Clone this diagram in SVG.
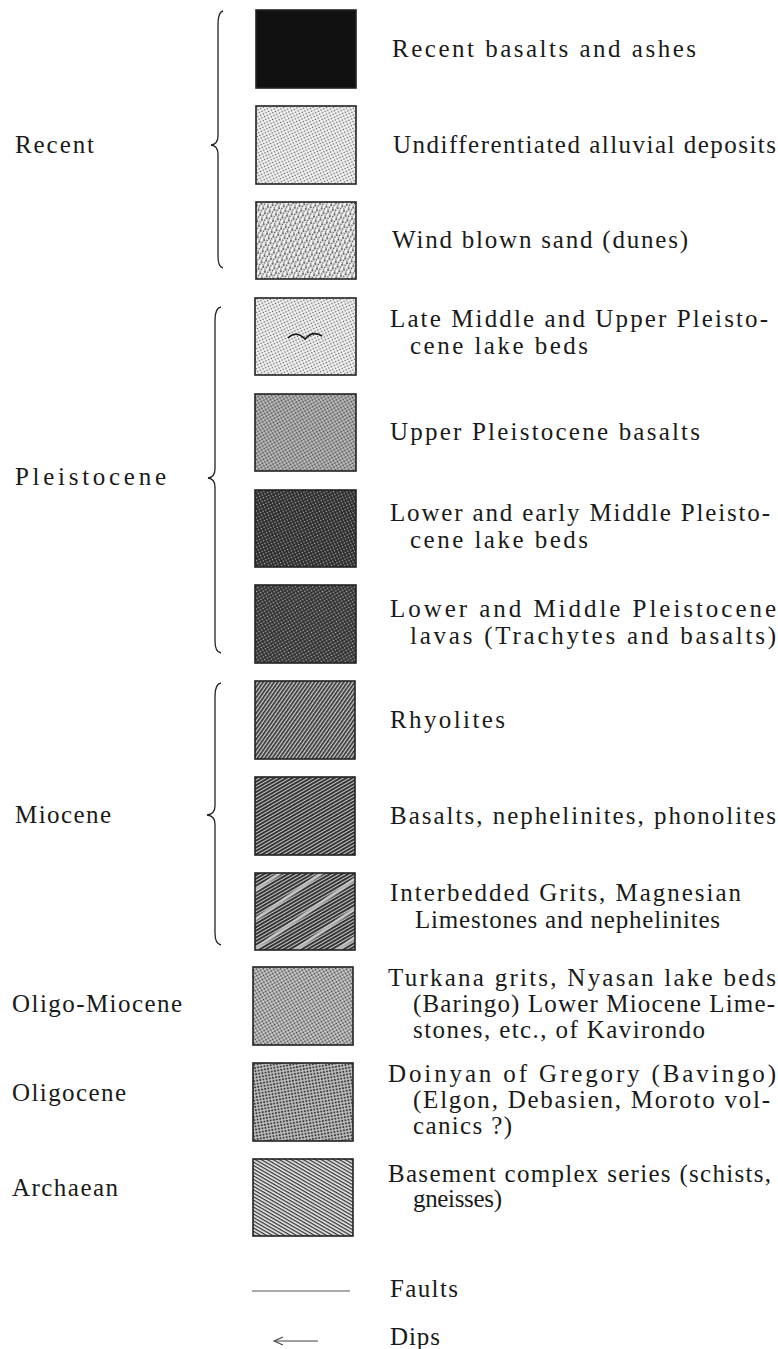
<svg xmlns="http://www.w3.org/2000/svg" width="778" height="1349" viewBox="0 0 778 1349">
<style>
text{font-family:"Liberation Serif","DejaVu Serif","Times New Roman",serif;font-size:25px;fill:#1a1a1a}
.sw{stroke:#222;stroke-width:1.6}
.br{fill:none;stroke:#222;stroke-width:1.3}
</style>
<defs>
<pattern id="p2" width="3" height="3" patternUnits="userSpaceOnUse" patternTransform="rotate(-25)"><rect width="3" height="3" fill="#f2f2f2"/><circle cx="1.5" cy="1.5" r="0.75" fill="#555"/></pattern>
<pattern id="p3" width="5" height="5" patternUnits="userSpaceOnUse" patternTransform="rotate(-20)"><rect width="5" height="5" fill="#f4f4f4"/><circle cx="1" cy="1" r="0.9" fill="#333"/><circle cx="3.6" cy="2.4" r="0.8" fill="#444"/><circle cx="1.8" cy="4" r="0.75" fill="#444"/></pattern>
<pattern id="p5" width="3" height="3" patternUnits="userSpaceOnUse" patternTransform="rotate(-30)"><rect width="3" height="3" fill="#c4c4c4"/><circle cx="1.5" cy="1.5" r="1" fill="#444"/></pattern>
<pattern id="p6" width="3" height="3" patternUnits="userSpaceOnUse" patternTransform="rotate(-25)"><rect width="3" height="3" fill="#2e2e2e"/><circle cx="1.5" cy="1.5" r="0.65" fill="#bbb"/></pattern>
<pattern id="p7" width="3" height="3" patternUnits="userSpaceOnUse" patternTransform="rotate(-30)"><rect width="3" height="3" fill="#333"/><circle cx="1.5" cy="1.5" r="0.75" fill="#bbb"/></pattern>
<pattern id="p8" width="3" height="3" patternUnits="userSpaceOnUse" patternTransform="rotate(-55)"><rect width="3" height="3" fill="#d0d0d0"/><rect width="3" height="1.7" fill="#333"/></pattern>
<pattern id="p9" width="3" height="3" patternUnits="userSpaceOnUse" patternTransform="rotate(-30)"><rect width="3" height="3" fill="#c8c8c8"/><rect width="3" height="1.9" fill="#2e2e2e"/></pattern>
<pattern id="p10b" width="24" height="24" patternUnits="userSpaceOnUse" patternTransform="rotate(-35)"><rect y="10" width="24" height="3.5" fill="#d8d8d8" fill-opacity="0.75"/></pattern>
<pattern id="p11" width="3" height="3" patternUnits="userSpaceOnUse" patternTransform="rotate(-30)"><rect width="3" height="3" fill="#d2d2d2"/><circle cx="1.5" cy="1.5" r="0.95" fill="#3a3a3a"/></pattern>
<pattern id="p12" width="3.2" height="3.2" patternUnits="userSpaceOnUse" patternTransform="rotate(-10)"><rect width="3.2" height="3.2" fill="#bdbdbd"/><circle cx="1.6" cy="1.6" r="1.05" fill="#3a3a3a"/></pattern>
<pattern id="p13" width="3" height="3" patternUnits="userSpaceOnUse" patternTransform="rotate(30)"><rect width="3" height="3" fill="#eeeeee"/><rect width="3" height="1.3" fill="#333"/></pattern>
</defs>

<g id="braces">
<path class="br" d="M223,11 Q218,12 218,24 L218,136 Q218,144 211,145 Q218,146 218,154 L218,256 Q218,267 223,268"/>
<path class="br" d="M221,307 Q215,308 215,320 L215,469 Q215,477 208,478 Q215,479 215,487 L215,641 Q215,652 221,653"/>
<path class="br" d="M221,683 Q215,684 215,696 L215,806 Q215,814 207,815 Q215,816 215,824 L215,933 Q215,944 221,945"/>
</g>

<g id="period-labels">
<text x="15" y="153" textLength="79" lengthAdjust="spacing">Recent</text>
<text x="15" y="485" textLength="151" lengthAdjust="spacing">Pleistocene</text>
<text x="15" y="823" textLength="96" lengthAdjust="spacing">Miocene</text>
<text x="12" y="1012" textLength="170" lengthAdjust="spacing">Oligo-Miocene</text>
<text x="12" y="1101" textLength="114" lengthAdjust="spacing">Oligocene</text>
<text x="12" y="1196" textLength="106" lengthAdjust="spacing">Archaean</text>
</g>

<g id="n1"><rect class="sw" x="256" y="10" width="100" height="78" fill="#111"/><text x="392" y="57" textLength="304" lengthAdjust="spacing">Recent basalts and ashes</text></g>
<g id="n2"><rect class="sw" x="256" y="106" width="100" height="78" fill="url(#p2)"/><text x="393" y="153" textLength="383" lengthAdjust="spacing">Undifferentiated alluvial deposits</text></g>
<g id="n3"><rect class="sw" x="256" y="202" width="100" height="77" fill="url(#p3)"/><text x="392" y="248" textLength="296" lengthAdjust="spacing">Wind blown sand (dunes)</text></g>
<g id="n4"><rect class="sw" x="255" y="298" width="101" height="77" fill="url(#p2)"/><path d="M288,338 Q296,330 305,339 Q313,330 322,336" fill="none" stroke="#111" stroke-width="1.6"/><text x="390" y="327" textLength="378" lengthAdjust="spacing">Late Middle and Upper Pleisto-</text><text x="410" y="354" textLength="178" lengthAdjust="spacing">cene lake beds</text></g>
<g id="n5"><rect class="sw" x="255" y="394" width="101" height="77" fill="url(#p5)"/><text x="390" y="440" textLength="310" lengthAdjust="spacing">Upper Pleistocene basalts</text></g>
<g id="n6"><rect class="sw" x="255" y="490" width="101" height="77" fill="url(#p6)"/><text x="390" y="521" textLength="380" lengthAdjust="spacing">Lower and early Middle Pleisto-</text><text x="410" y="548" textLength="178" lengthAdjust="spacing">cene lake beds</text></g>
<g id="n7"><rect class="sw" x="255" y="585" width="101" height="78" fill="url(#p7)"/><text x="390" y="617" textLength="386" lengthAdjust="spacing">Lower and Middle Pleistocene</text><text x="410" y="644" textLength="366" lengthAdjust="spacing">lavas (Trachytes and basalts)</text></g>
<g id="n8"><rect class="sw" x="255" y="681" width="100" height="78" fill="url(#p8)"/><text x="390" y="728" textLength="115" lengthAdjust="spacing">Rhyolites</text></g>
<g id="n9"><rect class="sw" x="255" y="777" width="100" height="78" fill="url(#p9)"/><text x="390" y="824" textLength="386" lengthAdjust="spacing">Basalts, nephelinites, phonolites</text></g>
<g id="n10"><rect x="255" y="873" width="100" height="77" fill="url(#p9)"/><rect class="sw" x="255" y="873" width="100" height="77" fill="url(#p10b)"/><text x="390" y="901" textLength="351" lengthAdjust="spacing">Interbedded Grits, Magnesian</text><text x="415" y="928" textLength="305" lengthAdjust="spacing">Limestones and nephelinites</text></g>
<g id="n11"><rect class="sw" x="253" y="967" width="100" height="78" fill="url(#p11)"/><text x="388" y="986" textLength="388" lengthAdjust="spacing">Turkana grits, Nyasan lake beds</text><text x="413" y="1012" textLength="362" lengthAdjust="spacing">(Baringo) Lower Miocene Lime-</text><text x="413" y="1038" textLength="292" lengthAdjust="spacing">stones, etc., of Kavirondo</text></g>
<g id="n12"><rect class="sw" x="253" y="1063" width="100" height="78" fill="url(#p12)"/><text x="388" y="1082" textLength="388" lengthAdjust="spacing">Doinyan of Gregory (Bavingo)</text><text x="413" y="1108" textLength="357" lengthAdjust="spacing">(Elgon, Debasien, Moroto vol-</text><text x="413" y="1134" textLength="99" lengthAdjust="spacing">canics ?)</text></g>
<g id="n13"><rect class="sw" x="253" y="1159" width="100" height="77" fill="url(#p13)"/><text x="388" y="1182" textLength="383" lengthAdjust="spacing">Basement complex series (schists,</text><text x="413" y="1207" textLength="89" lengthAdjust="spacing">gneisses)</text></g>

<g id="connectors">
<line x1="252" y1="1291" x2="350" y2="1291" stroke="#555" stroke-width="1.2"/>
<line x1="275" y1="1341" x2="318" y2="1341" stroke="#444" stroke-width="1.1"/>
<path d="M283,1337 L274,1341 L283,1345" fill="none" stroke="#444" stroke-width="1.1"/>
</g>
<g id="legend-labels">
<text x="390" y="1297" textLength="68" lengthAdjust="spacing">Faults</text>
<text x="390" y="1345" textLength="50" lengthAdjust="spacing">Dips</text>
</g>
</svg>
